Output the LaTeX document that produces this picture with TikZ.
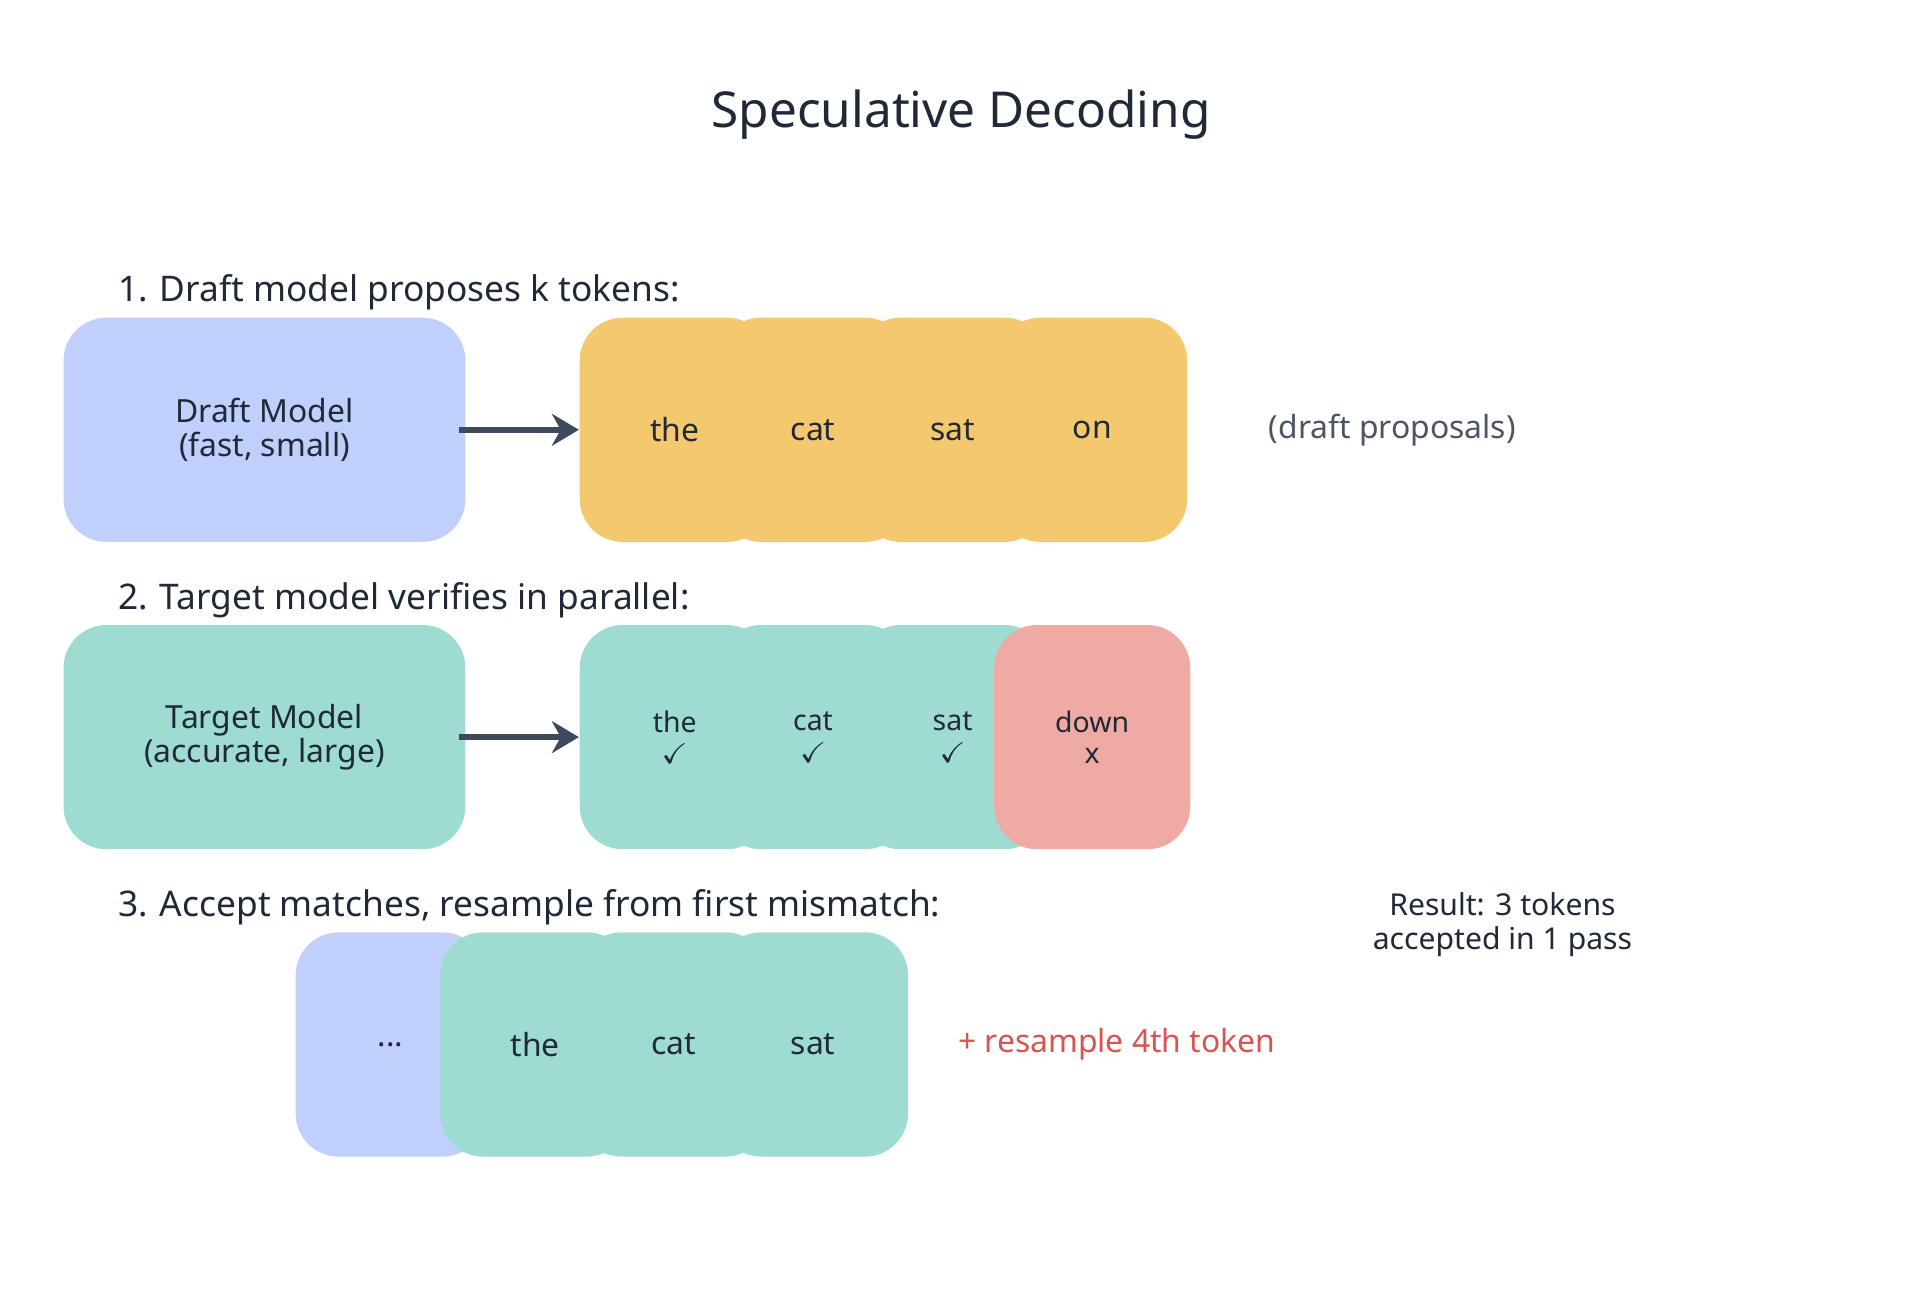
\documentclass[tikz,border=0pt]{standalone}
\usepackage{amssymb}
\usepackage{fontspec}
\setmainfont{Noto Sans}
\usetikzlibrary{positioning, arrows.meta}
\definecolor{draftblue}{HTML}{C0CFFC}
\definecolor{tokorange}{HTML}{F3C86F}
\definecolor{okgreen}{HTML}{9EDCD1}
\definecolor{badred}{HTML}{F0AAA4}
\definecolor{arrowgray}{HTML}{3D4A5C}
\definecolor{notegray}{HTML}{4B5563}
\definecolor{resred}{HTML}{D9534F}
\definecolor{inkdark}{HTML}{1F2937}
\begin{document}
\begin{tikzpicture}[
    x=0.01cm, y=-0.01cm,
    % GLOBAL CFG
    font=\fontsize{7.4pt}{8pt}\selectfont,
    text=inkdark,
    % Styles
    model/.style={% For the model boxes
        rectangle,
        rounded corners=3.5mm,
        minimum width=3.28cm,
        minimum height=1.83cm,
        align=center,
        },
    token/.style={% For the token boxes
        rectangle,
        rounded corners=3.5mm,
        minimum width=1.55cm,
        minimum height=1.83cm,
        align=center,
        },
    steplabel/.style={% For the step labels
        anchor=west,
        font=\fontsize{8.2pt}{9pt}\selectfont,
        },
    ArrowF/.style={% Thick arrows
        -{Stealth[length=2.2mm,width=2.6mm]},
        line width=1.4pt,
        draw=arrowgray,
        },
    ]
    \useasboundingbox (0,0) rectangle (1568,1055);

    % Title
    \node [font=\fontsize{11.5pt}{13pt}\selectfont] (title) at (785,94) {Speculative Decoding};

    % Row 1
    \node [steplabel] (step1) at (84,239) {1. Draft model proposes k tokens:};
    \node [model, fill=draftblue] (draft) at (216,351) {Draft Model\\(fast, small)};
    \node [token, fill=tokorange] (d1) at (551,351) {the};
    \node [token, fill=tokorange] (d2) at (664,351) {cat};
    \node [token, fill=tokorange] (d3) at (778,351) {sat};
    \node [token, fill=tokorange] (d4) at (892,351) {on};
    \node [text=notegray] (dnote) at (1137,351) {(draft proposals)};

    % Row 2
    \node [steplabel] (step2) at (84,490) {2. Target model verifies in parallel:};
    \node [model, fill=okgreen] (target) at (216,602) {Target Model\\(accurate, large)};
    \node [token, fill=okgreen, font=\fontsize{6.6pt}{7.4pt}\selectfont] (v1) at (551,602) {the\\$\checkmark$};
    \node [token, fill=okgreen, font=\fontsize{6.6pt}{7.4pt}\selectfont] (v2) at (664,602) {cat\\$\checkmark$};
    \node [token, fill=okgreen, font=\fontsize{6.6pt}{7.4pt}\selectfont] (v3) at (778,602) {sat\\$\checkmark$};
    \node [token, fill=badred, minimum width=1.6cm, font=\fontsize{6.6pt}{7.4pt}\selectfont] (v4) at (892,602) {down\\x};

    % Row 3
    \node [steplabel] (step3) at (84,741) {3. Accept matches, resample from first mismatch:};
    \node [token, fill=draftblue] (a0) at (319,853) {...};
    \node [token, fill=okgreen] (a1) at (437,853) {the};
    \node [token, fill=okgreen] (a2) at (550,853) {cat};
    \node [token, fill=okgreen] (a3) at (664,853) {sat};
    \node [text=resred] (resample) at (912,853) {+ resample 4th token};
    \node [align=center, font=\fontsize{7pt}{8pt}\selectfont] (result) at (1227,755) {Result: 3 tokens\\accepted in 1 pass};

    % Arrows
    \draw [ArrowF] (draft.east) ++(-6,0) -- (d1.west);
    \draw [ArrowF] (target.east) ++(-6,0) -- (v1.west);
\end{tikzpicture}
\end{document}
